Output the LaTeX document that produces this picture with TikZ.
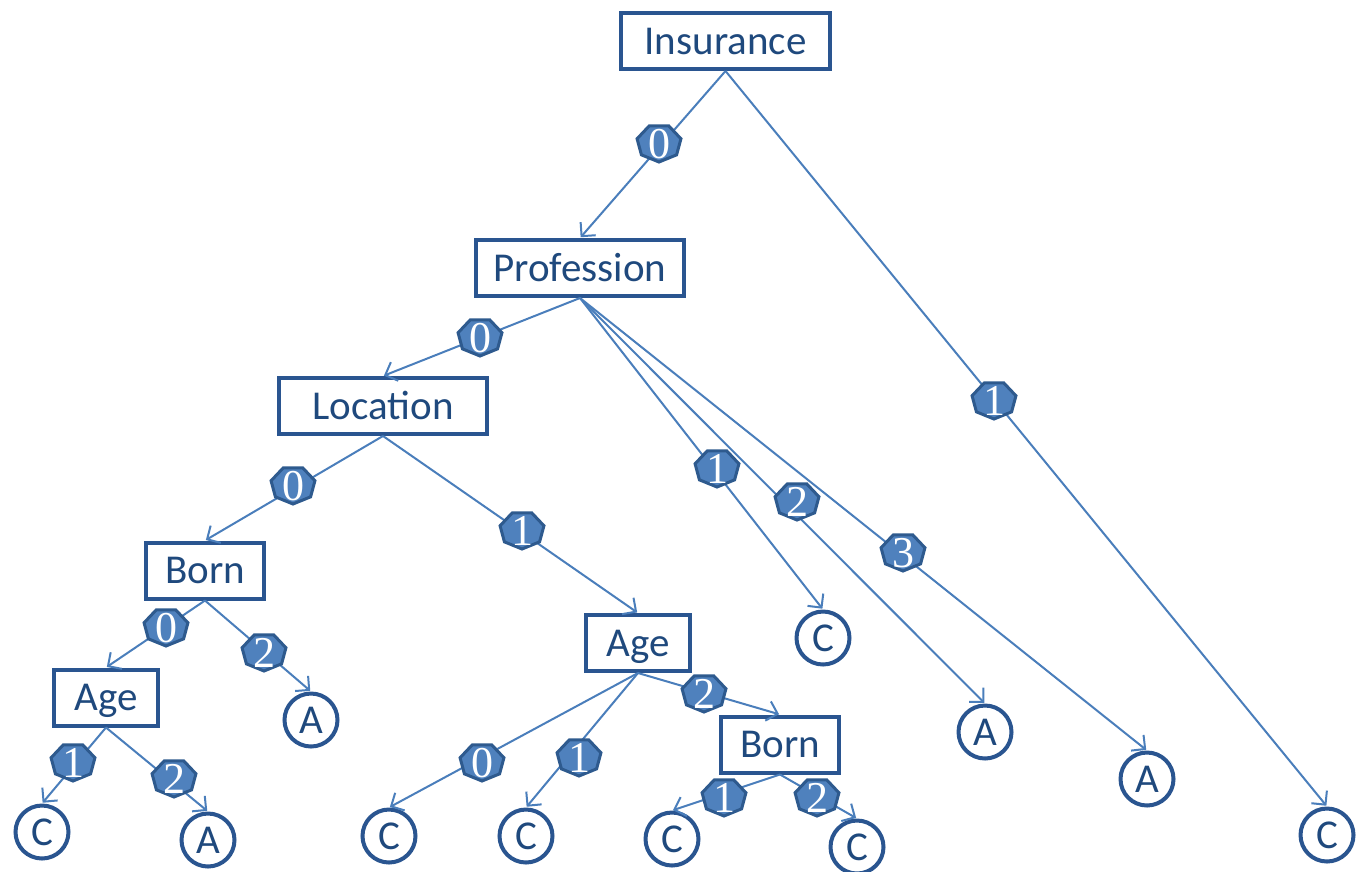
\documentclass[tikz,border=0pt]{standalone}
\usepackage{fontspec}
\newfontfamily\calfont{Carlito}
\newfontfamily\digfont{Liberation Serif}
\usetikzlibrary{arrows.meta}
\definecolor{linec}{HTML}{4A7EBB}
\definecolor{boxc}{HTML}{2A5590}
\definecolor{textc}{HTML}{1F497D}
\definecolor{bfill}{HTML}{4F81BD}
\definecolor{bdraw}{HTML}{2E5A8E}
\tikzset{
  x=1pt, y=-1pt,
  nodetext/.style={font=\calfont\fontsize{41}{44}\selectfont, text=textc, text height=26pt, text depth=0pt, inner sep=0pt},
  boxnode/.style={nodetext, draw=boxc, line width=4pt, minimum height=56pt, fill=white},
  leaf/.style={nodetext, circle, draw=boxc, line width=4pt, minimum size=53pt, fill=white},
  edge/.style={draw=linec, line width=2pt, -{Straight Barb[length=10pt,width=20pt,line width=2pt]}, shorten >=1pt},
  badgepic/.pic={
    \filldraw[fill=bfill, draw=bdraw, line width=3pt]
      (0,19) \foreach \k in {1,...,6}{ -- ({22.5*cos(90+\k*360/7)},{19*sin(90+\k*360/7)}) } -- cycle;
    \node[text=white, font=\digfont\fontsize{44}{46}\selectfont, inner sep=0pt, text height=28pt, text depth=0pt] (-n) at (0,1.5) {#1};
  }
}
\begin{document}
\begin{tikzpicture}
\useasboundingbox (0,0) rectangle (1364,871);
% boxes
\node[boxnode, minimum width=209pt] (ins) at (725.5,41) {Insurance};
\node[boxnode, minimum width=208pt] (prof) at (580,268) {Profession};
\node[boxnode, minimum width=208pt] (loc) at (383,406) {Location};
\node[boxnode, minimum width=118pt] (born1) at (205,570.5) {Born};
\node[boxnode, minimum width=104pt] (age1) at (106,697.5) {Age};
\node[boxnode, minimum width=104pt] (age2) at (638,643) {Age};
\node[boxnode, minimum width=118pt] (born2) at (780,744.5) {Born};
% leaves
\node[leaf] (c1) at (42,832) {C};
\node[leaf] (a1) at (208,840) {A};
\node[leaf] (a2) at (311,720) {A};
\node[leaf] (c2) at (389,836) {C};
\node[leaf] (c3) at (526,836) {C};
\node[leaf] (c4) at (672,839) {C};
\node[leaf] (c5) at (857,847) {C};
\node[leaf] (c6) at (823,638) {C};
\node[leaf] (a3) at (985,732) {A};
\node[leaf] (a4) at (1147,779) {A};
\node[leaf] (c7) at (1327,835) {C};
% edges
\draw[edge] (ins.south) -- (prof.north);
\draw[edge] (ins.south) -- (c7.north);
\draw[edge] (prof.south) -- (loc.north);
\draw[edge] (prof.south) -- (c6.north);
\draw[edge] (prof.south) -- (a3.north);
\draw[edge] (prof.south) -- (a4.north);
\draw[edge] (loc.south) -- (born1.north);
\draw[edge] (loc.south) -- (age2.north);
\draw[edge] (born1.south) -- (age1.north);
\draw[edge] (born1.south) -- (a2.north);
\draw[edge] (age1.south) -- (c1.north);
\draw[edge] (age1.south) -- (a1.north);
\draw[edge] (age2.south) -- (c2.north);
\draw[edge] (age2.south) -- (c3.north);
\draw[edge] (age2.south) -- (born2.north);
\draw[edge] (born2.south) -- (c4.north);
\draw[edge] (born2.south) -- (c5.north);
% badges
\pic (bi0) at (659,143) {badgepic=0};
\pic (bi1) at (994,400) {badgepic=1};
\pic (bp0) at (480,337) {badgepic=0};
\pic (bp1) at (717,468) {badgepic=1};
\pic (bp2) at (797,501) {badgepic=2};
\pic (bp3) at (903,552) {badgepic=3};
\pic (bl0) at (293,485) {badgepic=0};
\pic (bl1) at (522,530) {badgepic=1};
\pic (bb0) at (166,627) {badgepic=0};
\pic (bb2) at (264,652) {badgepic=2};
\pic (ba1) at (73,762) {badgepic=1};
\pic (ba2) at (174,778) {badgepic=2};
\pic (bc0) at (482,762) {badgepic=0};
\pic (bc1) at (579,757) {badgepic=1};
\pic (bc2) at (704,693) {badgepic=2};
\pic (bd1) at (724,797) {badgepic=1};
\pic (bd2) at (817,797) {badgepic=2};
\end{tikzpicture}
\end{document}
